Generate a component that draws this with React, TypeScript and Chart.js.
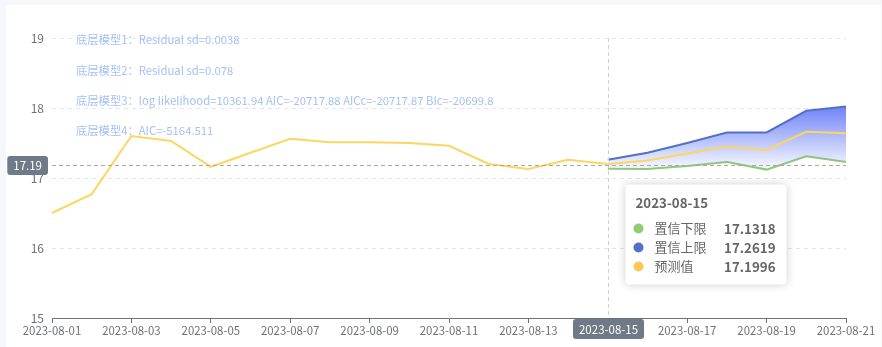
import React, { useEffect, useRef } from "react";
import { Chart, registerables } from "chart.js";

Chart.register(...registerables);

const FONT = '"Noto Sans CJK SC", "Noto Sans", sans-serif';

const dates = [
  "2023-08-01", "2023-08-02", "2023-08-03", "2023-08-04", "2023-08-05", "2023-08-06", "2023-08-07",
  "2023-08-08", "2023-08-09", "2023-08-10", "2023-08-11", "2023-08-12", "2023-08-13", "2023-08-14",
  "2023-08-15", "2023-08-16", "2023-08-17", "2023-08-18", "2023-08-19", "2023-08-20", "2023-08-21",
];
const actual = [
  16.5, 16.77, 17.6, 17.53, 17.16, 17.36, 17.56, 17.51, 17.51, 17.5, 17.46, 17.2, 17.13, 17.26, 17.1996,
  null, null, null, null, null, null,
];
const forecast = [
  null, null, null, null, null, null, null, null, null, null, null, null, null, null,
  17.1996, 17.25, 17.35, 17.45, 17.4, 17.66, 17.64,
];
const upper = [
  null, null, null, null, null, null, null, null, null, null, null, null, null, null,
  17.2619, 17.36, 17.5, 17.65, 17.65, 17.96, 18.02,
];
const lower = [
  null, null, null, null, null, null, null, null, null, null, null, null, null, null,
  17.1318, 17.13, 17.17, 17.23, 17.12, 17.31, 17.23,
];
const yMin = 15;
const yMax = 19;
const notes = [
  "底层模型1：Residual sd=0.0038",
  "底层模型2：Residual sd=0.078",
  "底层模型3：log likelihood=10361.94 AIC=-20717.88 AICc=-20717.87 BIc=-20699.8",
  "底层模型4：AIC=-5164.511",
];
const activeDate = "2023-08-15";
const pointerValue = 17.19;
const seriesNames = { lower: "置信下限", upper: "置信上限", forecast: "预测值" };
const colors = { actual: "#fcd660", lower: "#91cc75", upper: "#5470c6", forecast: "#fcd660" };

function rrect(ctx: CanvasRenderingContext2D, x: number, y: number, w: number, h: number, r: number) {
  ctx.beginPath();
  ctx.moveTo(x + r, y);
  ctx.lineTo(x + w - r, y);
  ctx.arcTo(x + w, y, x + w, y + r, r);
  ctx.lineTo(x + w, y + h - r);
  ctx.arcTo(x + w, y + h, x + w - r, y + h, r);
  ctx.lineTo(x + r, y + h);
  ctx.arcTo(x, y + h, x, y + h - r, r);
  ctx.lineTo(x, y + r);
  ctx.arcTo(x, y, x + r, y, r);
  ctx.closePath();
}

const overlayPlugin = {
  id: "overlay",
  afterDraw(chart: any) {
    const { ctx, chartArea: a, scales } = chart;
    const xs = scales.x;
    const ys = scales.y;
    const idx = dates.indexOf(activeDate);
    const px = Math.round(xs.getPixelForValue(idx)) + 0.5;
    const py = Math.round(ys.getPixelForValue(pointerValue)) + 0.5;
    ctx.save();

    // notes
    ctx.font = `11.3px ${FONT}`;
    ctx.fillStyle = "#a4c2f0";
    ctx.textBaseline = "middle";
    ctx.textAlign = "left";
    notes.forEach((t, i) => ctx.fillText(t, a.left + 24, a.top + 2 + i * 30.3));

    // crosshair
    ctx.lineWidth = 1;
    ctx.setLineDash([4, 3]);
    ctx.strokeStyle = "#cfcfd6";
    ctx.beginPath();
    ctx.moveTo(px, a.top);
    ctx.lineTo(px, a.bottom);
    ctx.stroke();
    ctx.strokeStyle = "#a8a8a8";
    ctx.beginPath();
    ctx.moveTo(a.left, py);
    ctx.lineTo(a.right, py);
    ctx.stroke();
    ctx.setLineDash([]);

    // y pointer label
    ctx.font = `11.5px ${FONT}`;
    const yl = pointerValue.toFixed(2);
    const ylw = ctx.measureText(yl).width + 12;
    ctx.fillStyle = "#6e7a87";
    rrect(ctx, a.left - 4 - ylw, py - 9.5, ylw, 19, 3);
    ctx.fill();
    ctx.fillStyle = "#ffffff";
    ctx.textAlign = "center";
    ctx.fillText(yl, a.left - 4 - ylw / 2, py + 0.5);

    // x pointer label
    const xl = dates[idx];
    const xlw = ctx.measureText(xl).width + 12;
    ctx.fillStyle = "#6e7a87";
    rrect(ctx, px - xlw / 2, a.bottom + 1, xlw, 20, 3);
    ctx.fill();
    ctx.fillStyle = "#ffffff";
    ctx.fillText(xl, px, a.bottom + 11.5);

    // tooltip
    const tx = px + 17;
    const ty = py + 19;
    const tw = 161;
    const th = 100;
    ctx.save();
    ctx.shadowColor = "rgba(0,0,0,0.2)";
    ctx.shadowBlur = 10;
    ctx.fillStyle = "#ffffff";
    rrect(ctx, tx, ty, tw, th, 4);
    ctx.fill();
    ctx.restore();
    ctx.textAlign = "left";
    ctx.fillStyle = "#666666";
    ctx.font = `bold 13.3px ${FONT}`;
    ctx.fillText(xl, tx + 10, ty + 18);
    const rows = [
      { name: seriesNames.lower, color: colors.lower, v: lower[idx] },
      { name: seriesNames.upper, color: colors.upper, v: upper[idx] },
      { name: seriesNames.forecast, color: "#fac858", v: forecast[idx] },
    ];
    rows.forEach((r, i) => {
      const cy = ty + 44 + i * 19;
      ctx.fillStyle = r.color;
      ctx.beginPath();
      ctx.arc(tx + 13, cy, 5, 0, Math.PI * 2);
      ctx.fill();
      ctx.fillStyle = "#666666";
      ctx.font = `13px ${FONT}`;
      ctx.textAlign = "left";
      ctx.fillText(r.name, tx + 29, cy);
      ctx.font = `bold 13.3px ${FONT}`;
      ctx.textAlign = "right";
      ctx.fillText((r.v as number).toFixed(4), tx + tw - 11, cy);
    });
    ctx.restore();
  },
};

export default function App() {
  const ref = useRef<HTMLCanvasElement>(null);
  useEffect(() => {
    if (!ref.current) return;
    Chart.defaults.font.family = FONT;
    const upMax = Math.max(...(upper.filter((v) => v !== null) as number[]));
    const lowMin = Math.min(...(lower.filter((v) => v !== null) as number[]));
    const chart = new Chart(ref.current, {
      type: "line",
      data: {
        labels: dates,
        datasets: [
          { label: "实际值", data: actual, borderColor: colors.actual, borderWidth: 2, pointRadius: 0, tension: 0, fill: false },
          { label: seriesNames.forecast, data: forecast, borderColor: colors.forecast, borderWidth: 2, pointRadius: 0, tension: 0, fill: false },
          {
            label: seriesNames.upper,
            data: upper,
            borderColor: colors.upper,
            borderWidth: 2,
            pointRadius: 0,
            tension: 0,
            fill: "+1",
            backgroundColor: (c: any) => {
              const { chart: ch } = c;
              const { ctx, chartArea, scales } = ch;
              if (!chartArea) return "rgba(100,120,245,0.4)";
              const t = scales.y.getPixelForValue(upMax);
              const b = scales.y.getPixelForValue(lowMin);
              const g = ctx.createLinearGradient(0, t, 0, b);
              g.addColorStop(0, "rgba(95,118,246,0.9)");
              g.addColorStop(1, "rgba(95,118,246,0.04)");
              return g;
            },
          },
          { label: seriesNames.lower, data: lower, borderColor: colors.lower, borderWidth: 2, pointRadius: 0, tension: 0, fill: false },
        ],
      },
      options: {
        responsive: false,
        animation: false,
        layout: { padding: { left: 0, right: 36, top: 38, bottom: 0 } },
        plugins: { legend: { display: false }, tooltip: { enabled: false } },
        scales: {
          x: {
            type: "category",
            offset: false,
            afterFit: (s: any) => { s.height = 29; },
            grid: { display: true, drawOnChartArea: false, drawTicks: true, tickLength: 5, color: "#6e7079" },
            border: { display: true, color: "#6e7079", width: 1 },
            ticks: {
              autoSkip: false,
              maxRotation: 0,
              padding: 1,
              color: "#6e7079",
              font: { size: 11.4, family: FONT },
              callback: (_v: any, i: number) => (i % 2 === 0 ? dates[i] : null),
            },
          },
          y: {
            min: yMin,
            max: yMax,
            afterFit: (s: any) => { s.width = 52; },
            grid: { color: "#e0e6f1", drawTicks: false },
            border: { display: false, dash: [4, 4] },
            ticks: { stepSize: 1, padding: 8, color: "#6e7079", font: { size: 12, family: FONT } },
          },
        },
      },
      plugins: [overlayPlugin],
    } as any);
    return () => chart.destroy();
  }, []);
  return (
    <div style={{ position: "fixed", left: 0, top: 0, width: 882, height: 347, background: "#f5f7fa", overflow: "hidden" }}>
      <div style={{ position: "absolute", left: 6, top: 5, width: 875, height: 342, background: "#ffffff" }} />
      <canvas ref={ref} width={882} height={347} style={{ position: "absolute", left: 0, top: 0, width: 882, height: 347 }} />
    </div>
  );
}
